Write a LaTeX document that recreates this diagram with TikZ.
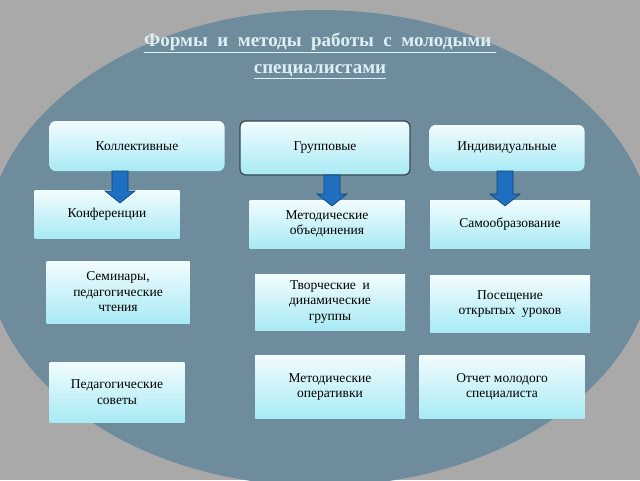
\documentclass[tikz,border=0pt]{standalone}
\usepackage{fontspec}
\setmainfont{Liberation Serif}
\definecolor{bg}{HTML}{A9A9A9}
\definecolor{ell}{HTML}{6F8C9C}
\definecolor{boxtop}{HTML}{F2FCFE}
\definecolor{boxbot}{HTML}{A8EAF4}
\definecolor{arr}{HTML}{1E6FC0}
\definecolor{ttl}{HTML}{DDF0F4}
\tikzset{
  bx/.style={top color=boxtop,bottom color=boxbot,draw=none,align=center,font=\fontsize{13.5}{15.5}\selectfont,inner sep=0pt},
  hd/.style={bx,rounded corners=6pt},
  darr/.style={fill=arr,draw=arr!60!black,line width=0.6pt}
}
\newcommand{\dnarrow}[3]{% x, ytop, ybottom
  \draw[darr] (#1-8,#2) -- (#1+8,#2) -- (#1+8,#3-12) -- (#1+15,#3-12) -- (#1,#3) -- (#1-15,#3-12) -- (#1-8,#3-12) -- cycle;}
\begin{document}
\begin{tikzpicture}[x=1pt,y=-1pt]
\fill[bg] (0,0) rectangle (640,480);
\useasboundingbox (0,0) rectangle (640,480);
\fill[ell] (320,248) ellipse [x radius=335,y radius=238];
\node[font=\bfseries\fontsize{19}{27}\selectfont,text=ttl,align=center] (t) at (320,56) {\underline{Формы \ и \ методы \ работы \ с \ молодыми\ }\\ \underline{специалистами}};
% headers
\node[hd,minimum width=175,minimum height=50] (h1) at (137,146) {Коллективные};
\node[hd,draw=ell!50!black,line width=1.2pt,minimum width=170,minimum height=54] (h2) at (325,148) {Групповые};
\node[hd,minimum width=155,minimum height=46] (h3) at (507,148) {Индивидуальные};
% column 1
\node[bx,minimum width=145,minimum height=48] (c1) at (107,214) {Конференции};
\node[bx,minimum width=143,minimum height=62] (c2) at (118,292) {Семинары,\\педагогические\\чтения};
\node[bx,minimum width=135,minimum height=60] (c3) at (117,392) {Педагогические\\советы};
% column 2
\node[bx,minimum width=155,minimum height=48] (d1) at (327,224) {Методические\\объединения};
\node[bx,minimum width=150,minimum height=56] (d2) at (330,302) {Творческие \ и\\динамические\\группы};
\node[bx,minimum width=150,minimum height=63] (d3) at (330,387) {Методические\\оперативки};
% column 3
\node[bx,minimum width=160,minimum height=48] (e1) at (510,224) {Самообразование};
\node[bx,minimum width=160,minimum height=57] (e2) at (510,304) {Посещение\\открытых \ уроков};
\node[bx,minimum width=165,minimum height=63] (e3) at (502,387) {Отчет молодого\\специалиста};
% arrows
\dnarrow{120}{171}{203}
\dnarrow{332}{175}{206}
\dnarrow{505}{171}{206}
\end{tikzpicture}
\end{document}
